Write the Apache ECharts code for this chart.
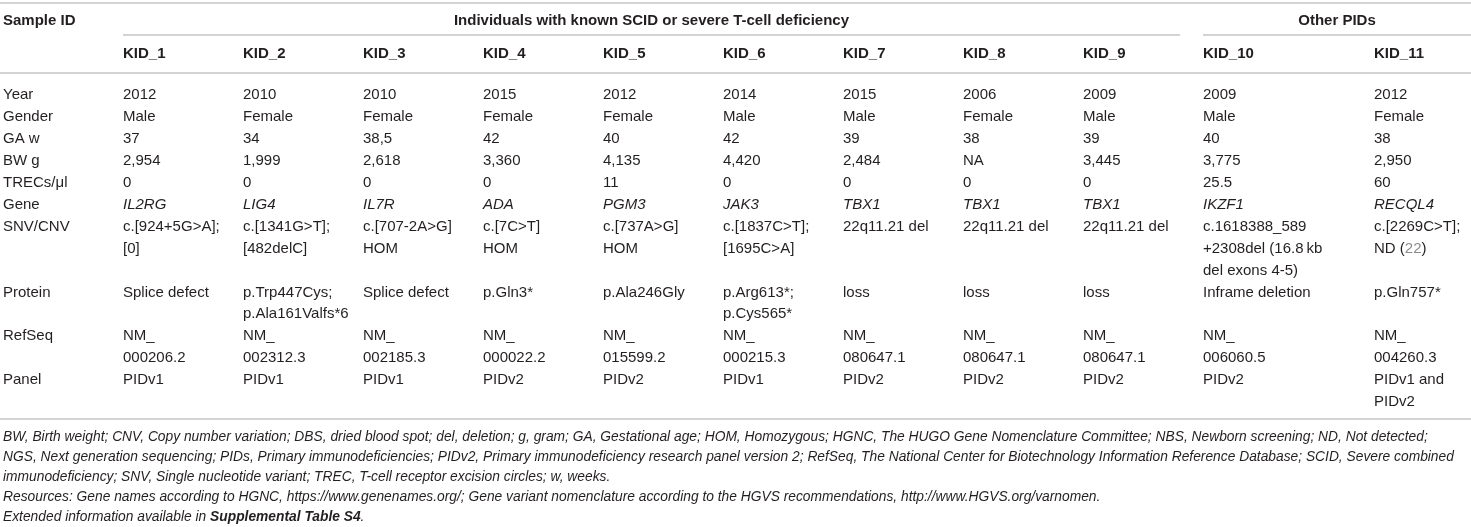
<!DOCTYPE html>
<html>
<head>
<meta charset="utf-8">
<script src="https://cdn.jsdelivr.net/npm/echarts@6/dist/echarts.min.js"></script>
<style>
    html, body {margin: 0; padding: 0; background: #fff;}
    #main {width: 1471px; height: 527px;}
</style>
</head>
<body>
<div id="main"></div>
<script>
// table content
let rowLabels = ['Year', 'Gender', 'GA w', 'BW g', 'TRECs/\u03bcl', 'Gene', 'SNV/CNV', 'Protein', 'RefSeq', 'Panel'];
let sampleIds = ['KID_1', 'KID_2', 'KID_3', 'KID_4', 'KID_5', 'KID_6', 'KID_7', 'KID_8', 'KID_9', 'KID_10', 'KID_11'];
let years = ['2012', '2010', '2010', '2015', '2012', '2014', '2015', '2006', '2009', '2009', '2012'];
let genders = ['Male', 'Female', 'Female', 'Female', 'Female', 'Male', 'Male', 'Female', 'Male', 'Male', 'Female'];
let gaWeeks = ['37', '34', '38,5', '42', '40', '42', '39', '38', '39', '40', '38'];
let birthWeights = ['2,954', '1,999', '2,618', '3,360', '4,135', '4,420', '2,484', 'NA', '3,445', '3,775', '2,950'];
let trecs = ['0', '0', '0', '0', '11', '0', '0', '0', '0', '25.5', '60'];
let genes = ['IL2RG', 'LIG4', 'IL7R', 'ADA', 'PGM3', 'JAK3', 'TBX1', 'TBX1', 'TBX1', 'IKZF1', 'RECQL4'];
let variants = ['c.[924+5G>A];\n[0]', 'c.[1341G>T];\n[482delC]', 'c.[707-2A>G]\nHOM', 'c.[7C>T]\nHOM',
    'c.[737A>G]\nHOM', 'c.[1837C>T];\n[1695C>A]', '22q11.21 del', '22q11.21 del', '22q11.21 del',
    'c.1618388_589\n+2308del (16.8\u2009kb\ndel exons 4-5)', 'c.[2269C>T];\nND (22)'];
let proteins = ['Splice defect', 'p.Trp447Cys;\np.Ala161Valfs*6', 'Splice defect', 'p.Gln3*', 'p.Ala246Gly',
    'p.Arg613*;\np.Cys565*', 'loss', 'loss', 'loss', 'Inframe deletion', 'p.Gln757*'];
let refSeqs = ['NM_\n000206.2', 'NM_\n002312.3', 'NM_\n002185.3', 'NM_\n000022.2', 'NM_\n015599.2', 'NM_\n000215.3',
    'NM_\n080647.1', 'NM_\n080647.1', 'NM_\n080647.1', 'NM_\n006060.5', 'NM_\n004260.3'];
let panels = ['PIDv1', 'PIDv1', 'PIDv1', 'PIDv2', 'PIDv2', 'PIDv1', 'PIDv2', 'PIDv2', 'PIDv2', 'PIDv2', 'PIDv1 and\nPIDv2'];
let groupNames = ['Individuals with known SCID or severe T-cell deficiency', 'Other PIDs'];
let groupFirst = [1, 10];
let groupLast = [9, 11];
let footnotes = [
    'BW, Birth weight; CNV, Copy number variation; DBS, dried blood spot; del, deletion; g, gram; GA, Gestational age; HOM, Homozygous; HGNC, The HUGO Gene Nomenclature Committee; NBS, Newborn screening; ND, Not detected;',
    'NGS, Next generation sequencing; PIDs, Primary immunodeficiencies; PIDv2, Primary immunodeficiency research panel version 2; RefSeq, The National Center for Biotechnology Information Reference Database; SCID, Severe combined',
    'immunodeficiency; SNV, Single nucleotide variant; TREC, T-cell receptor excision circles; w, weeks.',
    'Resources: Gene names according to HGNC, https://www.genenames.org/; Gene variant nomenclature according to the HGVS recommendations, http://www.HGVS.org/varnomen.',
    'Extended information available in {b|Supplemental Table S4}.'
];

let rows = [years, genders, gaWeeks, birthWeights, trecs, genes, variants, proteins, refSeqs, panels];

// layout
let W = 1471, H = 527;
let colPx = 120;          // px of one column unit on the x axis
let colUnits = [1, 1, 1, 1, 1, 1, 1, 1, 1, 1, 1.425];   // label col + KID_1..KID_10 widths
let inset = 3;            // text inset from column start
let lineH = 21.93;        // px of one text line on the y axis
let firstLinePx = 95;     // centre of first body line
let FONT = "'Liberation Sans', Arial, sans-serif";
let TEXT = '#231f20';
let RULE = '#c4c4c4';

let colStart = [0];
for (let i = 0; i < colUnits.length; i++) colStart.push(colStart[i] + colUnits[i]);
let xMax = W / colPx;
let yMin = -firstLinePx / lineH;
let yMax = yMin + H / lineH;

// header / rule positions in line units
let topRuleY = (3 - firstLinePx) / lineH;
let groupY = (21 - firstLinePx) / lineH;
let groupRuleY = (35 - firstLinePx) / lineH;
let kidY = (54 - firstLinePx) / lineH;
let headRuleY = (73 - firstLinePx) / lineH;

// stack rows by their number of lines
let lineStart = [];
let total = 0;
for (let r = 0; r < rows.length; r++) {
    lineStart.push(total);
    let n = 1;
    rows[r].forEach(function (t) {n = Math.max(n, t.split('\n').length);});
    total += n;
}
let bottomRuleY = total - 1 + 0.775;

let cellData = [];
for (let r = 0; r < rows.length; r++) {
    cellData.push([colStart[0], lineStart[r], r, -1]);
    for (let c = 0; c < sampleIds.length; c++) {
        cellData.push([colStart[c + 1], lineStart[r], r, c]);
    }
}

let headData = [[colStart[0], groupY, -1, -1]];
for (let c = 0; c < sampleIds.length; c++) headData.push([colStart[c + 1], kidY, -2, c]);

let ruleData = [[0, topRuleY, xMax], [0, headRuleY, xMax], [0, bottomRuleY, xMax]];
let groupData = [];
for (let g = 0; g < groupNames.length; g++) {
    let x0 = colStart[groupFirst[g]] + inset / colPx;
    let x1 = groupLast[g] + 1 < colStart.length ? colStart[groupLast[g] + 1] - 20 / colPx : xMax;
    ruleData.push([x0, groupRuleY, x1]);
    groupData.push([(x0 + x1) / 2, groupY, g]);
}

function cellText(r, c) {
    if (c < 0) return rowLabels[r];
    // citation numbers are grey links
    return rows[r][c].replace(/\((\d+)\)/g, '({ref|$1})');
}

function renderCell(params, api) {
    let x = api.value(0), line = api.value(1), r = api.value(2), c = api.value(3);
    let parts = cellText(r, c).split('\n');
    let italic = c >= 0 && rowLabels[r] === 'Gene';
    return {
        type: 'group',
        children: parts.map(function (t, j) {
            let p = api.coord([x, line + j]);
            return {
                type: 'text', x: p[0] + inset, y: p[1],
                style: {
                    text: t, fill: TEXT, verticalAlign: 'middle', align: 'left',
                    font: (italic ? 'italic ' : '') + '15px ' + FONT,
                    rich: {ref: {fill: '#8c8c8c', font: '15px ' + FONT}}
                }
            };
        })
    };
}

function renderHead(params, api) {
    let p = api.coord([api.value(0), api.value(1)]);
    let c = api.value(3);
    return {
        type: 'text', x: p[0] + inset, y: p[1],
        style: {text: c < 0 ? 'Sample ID' : sampleIds[c], fill: TEXT, verticalAlign: 'middle', font: 'bold 15px ' + FONT}
    };
}

function renderGroup(params, api) {
    let p = api.coord([api.value(0), api.value(1)]);
    return {
        type: 'text', x: p[0], y: p[1],
        style: {text: groupNames[api.value(2)], fill: TEXT, align: 'center', verticalAlign: 'middle', font: 'bold 15px ' + FONT}
    };
}

function renderRule(params, api) {
    let a = api.coord([api.value(0), api.value(1)]);
    let b = api.coord([api.value(2), api.value(1)]);
    return {
        type: 'line',
        shape: {x1: a[0], y1: a[1], x2: b[0], y2: b[1]},
        style: {stroke: RULE, lineWidth: 1.5}
    };
}

let myChart = echarts.init(document.getElementById('main'));
let option = {
    animation: false,
    title: {
        text: footnotes.join('\n'),
        left: 3, top: 427, padding: 0,
        textStyle: {
            fontFamily: FONT, fontSize: 13.8, fontStyle: 'italic', fontWeight: 'normal',
            color: TEXT, lineHeight: 20,
            rich: {b: {fontFamily: FONT, fontSize: 13.8, fontStyle: 'italic', fontWeight: 'bold', color: TEXT, lineHeight: 20}}
        }
    },
    grid: {left: 0, right: 0, top: 0, bottom: 0},
    xAxis: {type: 'value', min: 0, max: xMax, show: false},
    yAxis: {type: 'value', min: yMin, max: yMax, inverse: true, show: false},
    series: [
        {type: 'custom', name: 'rules', renderItem: renderRule, data: ruleData, silent: true},
        {type: 'custom', name: 'groups', renderItem: renderGroup, data: groupData, silent: true},
        {type: 'custom', name: 'head', renderItem: renderHead, data: headData, silent: true},
        {type: 'custom', name: 'cells', renderItem: renderCell, data: cellData, silent: true}
    ]
};
myChart.setOption(option);
</script>
</body>
</html>
